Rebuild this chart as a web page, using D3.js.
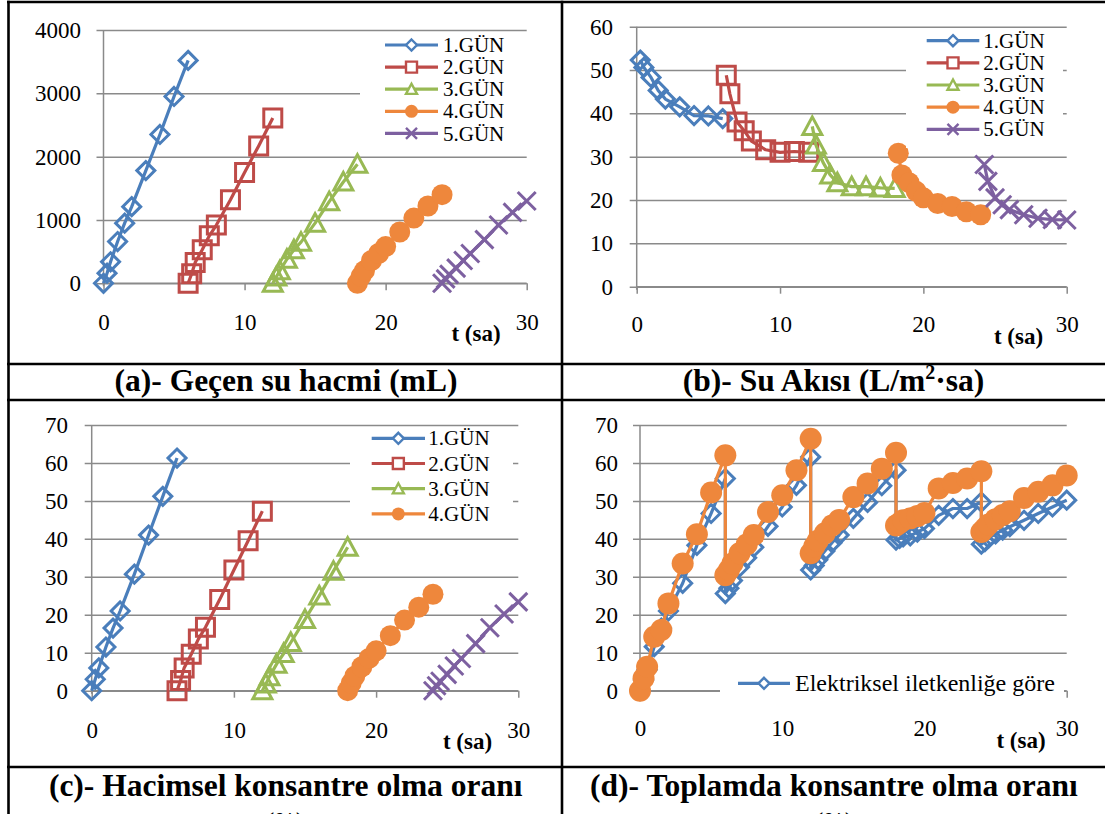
<!DOCTYPE html>
<html>
<head>
<meta charset="utf-8">
<script src="https://cdn.jsdelivr.net/npm/d3@7"></script>
<style>
  html, body { margin: 0; padding: 0; background: #fff; }
  svg { display: block; font-family: "Liberation Serif", "Times New Roman", serif; }
</style>
</head>
<body>
<svg id="fig" width="1105" height="814"></svg>
<script>
// ---------- data ----------
const dayLabels = ["1.GÜN", "2.GÜN", "3.GÜN", "4.GÜN", "5.GÜN"];
const xTicks = [0, 10, 20, 30];
const yTicksVolume = [0, 1000, 2000, 3000, 4000];
const yTicksFlux = [0, 10, 20, 30, 40, 50, 60];
const yTicksRatio = [0, 10, 20, 30, 40, 50, 60, 70];

// sampling times (sa) of each day
const tDay1 = [0, 0.25, 0.5, 1, 1.5, 2, 3, 4, 5, 6];
const tDay2 = [6, 6.25, 6.5, 7, 7.5, 8, 9, 10, 11, 12];
const tDay3 = [12, 12.25, 12.5, 13, 13.5, 14, 15, 16, 17, 18];
const tDay4 = [18, 18.25, 18.5, 19, 19.5, 20, 21, 22, 23, 24];
const tDay5 = [24, 24.25, 24.5, 25, 25.5, 26, 27, 28, 29, 30];

// flux is reported at the end of each interval
const tFlux1 = [0.25, 0.5, 1, 1.5, 2, 3, 4, 5, 6];
const tFlux2 = [6.25, 6.5, 7, 7.5, 8, 9, 10, 11, 12];
const tFlux3 = [12.25, 12.5, 13, 13.5, 14, 15, 16, 17, 18];
const tFlux4 = [18.25, 18.5, 19, 19.5, 20, 21, 22, 23, 24];
const tFlux5 = [24.25, 24.5, 25, 25.5, 26, 27, 28, 29, 30];

// (a) permeate volume, mL
const volDay1 = [0, 160, 340, 660, 950, 1210, 1780, 2350, 2950, 3520];
const volDay2 = [0, 150, 330, 530, 750, 920, 1320, 1750, 2170, 2610];
const volDay3 = [0, 100, 200, 380, 530, 650, 950, 1290, 1600, 1880];
const volDay4 = [0, 110, 200, 360, 470, 580, 810, 1030, 1220, 1400];
const volDay5 = [0, 70, 140, 240, 360, 470, 690, 920, 1120, 1300];

// (b) water flux, L/m2.sa
const fluxDay1 = [52.3, 50.6, 48.3, 45.3, 43.3, 41.5, 39.5, 39.4, 38.8];
const fluxDay2 = [48.8, 44.5, 38.0, 36.0, 33.6, 31.6, 31.0, 31.2, 31.0];
const fluxDay3 = [37.0, 32.7, 28.7, 25.8, 24.0, 23.1, 23.1, 22.8, 22.7];
const fluxDay4 = [30.8, 25.8, 24.0, 22.0, 20.5, 19.2, 18.5, 17.3, 16.6];
const fluxDay5 = [28.2, 24.3, 20.5, 18.9, 17.8, 16.6, 15.8, 15.5, 15.4];

// (c) volumetric concentration ratio, %
const vcrDay1 = [0, 3.0, 6.0, 11.5, 16.5, 21.0, 30.7, 41.0, 51.2, 61.3];
const vcrDay2 = [0, 2.7, 6.0, 9.6, 13.6, 16.7, 24.0, 31.8, 39.5, 47.3];
const vcrDay3 = [0, 1.8, 3.7, 7.0, 9.8, 12.7, 18.8, 25.0, 31.5, 37.8];
const vcrDay4 = [0, 2.0, 3.8, 6.3, 8.5, 10.5, 14.5, 18.6, 22.0, 25.4];
const vcrDay5 = [0, 1.3, 2.5, 4.3, 6.5, 8.5, 12.4, 16.6, 20.2, 23.4];

// (d) total concentration ratio, %
const ecDay1 = [0, 2.8, 5.5, 11.6, 16.5, 21.0, 28.3, 38.3, 46.7, 55.9];
const ecDay2 = [25.6, 27.0, 29.0, 32.6, 35.0, 37.8, 43.3, 48.4, 54.1, 61.6];
const ecDay3 = [31.8, 33.0, 34.5, 36.8, 39.0, 41.0, 45.4, 49.6, 54.0, 58.1];
const ecDay4 = [39.7, 40.1, 40.5, 40.8, 41.8, 42.7, 46.2, 48.0, 48.0, 49.7];
const ecDay5 = [38.6, 39.3, 40.2, 41.3, 42.3, 43.2, 44.9, 46.7, 48.4, 50.2];
const totDay1 = [0, 3.3, 6.3, 14.2, 16.0, 23.0, 33.5, 41.2, 52.2, 62.0];
const totDay2 = [30.4, 31.8, 33.5, 36.2, 38.5, 41.0, 47.1, 51.5, 58.1, 66.4];
const totDay3 = [36.2, 38.0, 39.5, 41.5, 43.5, 45.0, 51.0, 54.6, 58.5, 62.7];
const totDay4 = [43.5, 44.2, 44.9, 45.4, 46.0, 46.8, 53.3, 54.7, 55.9, 57.8];
const totDay5 = [41.8, 42.8, 43.8, 45.2, 46.3, 47.3, 50.8, 52.4, 54.1, 56.7];

const ecLabel = "Elektriksel iletkenliğe göre";
const captions = [
  "(a)- Geçen su hacmi (mL)",
  "(b)- Su Akısı (L/m",
  "(c)- Hacimsel konsantre olma oranı",
  "(d)- Toplamda konsantre olma oranı"
];

// ---------- styling ----------
const colors = ["#4A7EBB", "#BE4B48", "#98B954", "#EE873C", "#7D60A0"];
const shapes = ["diamond", "square", "triangle", "circle", "cross"];
const gridColor = "#8A8A8A";

const svg = d3.select("#fig");
svg.append("rect").attr("width", 1105).attr("height", 814).attr("fill", "#fff");

function markerPath(shape, r) {
  switch (shape) {
    case "diamond": return `M0,${-r}L${r},0L0,${r}L${-r},0Z`;
    case "square": return `M${-r},${-r}H${r}V${r}H${-r}Z`;
    case "triangle": return `M0,${-r}L${r},${r * 0.85}L${-r},${r * 0.85}Z`;
    case "circle": return d3.symbol(d3.symbolCircle, Math.PI * r * r)();
    case "cross": return `M${-r},${-r}L${r},${r}M${r},${-r}L${-r},${r}`;
  }
}

function drawMarker(g, shape, color, cx, cy, r, sw, hollowFill) {
  g.append("path")
    .attr("transform", `translate(${cx},${cy})`)
    .attr("d", markerPath(shape, r))
    .attr("fill", shape === "circle" ? color : hollowFill)
    .attr("stroke", color)
    .attr("stroke-width", shape === "circle" ? 0 : sw)
    .attr("stroke-linejoin", "miter");
}

function drawPanel(p) {
  const g = svg.append("g");
  const x = d3.scaleLinear().domain([0, 30]).range([p.x0, p.x1]);
  const y = d3.scaleLinear().domain([0, p.yMax]).range([p.yBot, p.yTop]);

  // horizontal gridlines + value labels
  const yAx = g.append("g").attr("transform", `translate(${p.x0},0)`)
    .call(d3.axisLeft(y).tickValues(p.yTicks).tickSizeInner(-(p.x1 - p.x0))
      .tickSizeOuter(0).tickPadding(p.yPad).tickFormat(d3.format("d")));
  yAx.attr("font-family", null);
  yAx.select(".domain").remove();
  yAx.selectAll(".tick line").attr("x1", -7).attr("x2", p.x1 - p.x0)
    .attr("stroke", gridColor).attr("stroke-width", 1.5);
  yAx.selectAll(".tick text").attr("font-size", 23).attr("fill", "#000")
    .attr("dy", "0.33em");

  // time axis
  const xAx = g.append("g").attr("transform", `translate(0,${p.yBot})`)
    .call(d3.axisBottom(x).tickValues(xTicks).tickSizeInner(7).tickSizeOuter(0));
  xAx.attr("font-family", null);
  xAx.select(".domain").remove();
  xAx.selectAll(".tick line").attr("stroke", gridColor).attr("stroke-width", 1.5);
  xAx.selectAll(".tick text").attr("font-size", 23).attr("fill", "#000")
    .attr("y", p.xLabY - p.yBot).attr("dy", "0.33em");

  g.append("line").attr("x1", p.x0).attr("x2", p.x0).attr("y1", p.yTop).attr("y2", p.yBot + 3)
    .attr("stroke", gridColor).attr("stroke-width", 1.5);
  g.append("line").attr("x1", p.x0).attr("x2", p.x1).attr("y1", p.yBot).attr("y2", p.yBot)
    .attr("stroke", gridColor).attr("stroke-width", 1.5);

  g.append("text").attr("x", p.tx).attr("y", p.ty).attr("dy", "0.33em")
    .attr("text-anchor", "middle").attr("font-weight", "bold").attr("font-size", 23)
    .text("t (sa)");

  // series
  const line = d3.line().x(d => x(d[0])).y(d => y(d[1]));
  p.series.forEach(s => {
    const pts = d3.zip(s.t, s.v);
    g.append("path").datum(pts).attr("d", line).attr("fill", "none")
      .attr("stroke", s.color).attr("stroke-width", 3.2).attr("stroke-linejoin", "round");
    pts.forEach(d => drawMarker(g, s.shape, s.color, x(d[0]), y(d[1]), s.r || 9, 3, "none"));
  });

  // legend
  const lg = g.append("g");
  lg.append("rect").attr("x", p.legBox[0]).attr("y", p.legBox[1])
    .attr("width", p.legBox[2]).attr("height", p.legBox[3]).attr("fill", "#fff");
  p.legend.forEach((e, i) => {
    const ly = p.legY0 + i * p.legDy;
    lg.append("line").attr("x1", p.legX0).attr("x2", p.legX1).attr("y1", ly).attr("y2", ly)
      .attr("stroke", e.color).attr("stroke-width", 3.2);
    drawMarker(lg, e.shape, e.color, (p.legX0 + p.legX1) / 2, ly, e.shape === "circle" ? 6.5 : 5.5, 2.4, "#fff");
    lg.append("text").attr("x", p.legTx).attr("y", ly).attr("dy", "0.34em")
      .attr("font-size", p.legFont).text(e.label);
  });
  return g;
}

const days5 = [
  { t: tDay1, vol: volDay1, vcr: vcrDay1, tf: tFlux1, flux: fluxDay1 },
  { t: tDay2, vol: volDay2, vcr: vcrDay2, tf: tFlux2, flux: fluxDay2 },
  { t: tDay3, vol: volDay3, vcr: vcrDay3, tf: tFlux3, flux: fluxDay3 },
  { t: tDay4, vol: volDay4, vcr: vcrDay4, tf: tFlux4, flux: fluxDay4 },
  { t: tDay5, vol: volDay5, vcr: vcrDay5, tf: tFlux5, flux: fluxDay5 }
];
const dayLegend = dayLabels.map((l, i) => ({ label: l, color: colors[i], shape: shapes[i] }));
const markerR = [9, 9, 9.5, 10.5, 9];

// (a)
drawPanel({
  x0: 103.5, x1: 526.7, yTop: 30, yBot: 283.3, yMax: 4000, yTicks: yTicksVolume, yPad: 22.5,
  xLabY: 322, tx: 476, ty: 333,
  series: days5.map((d, i) => ({ t: d.t, v: d.vol, color: colors[i], shape: shapes[i], r: markerR[i] })),
  legBox: [360, 36, 170, 112], legend: dayLegend,
  legX0: 385, legX1: 438, legTx: 443, legY0: 45, legDy: 22.1, legFont: 21
});

// (b)
drawPanel({
  x0: 636.7, x1: 1066.7, yTop: 26.7, yBot: 286.7, yMax: 60, yTicks: yTicksFlux, yPad: 23.7,
  xLabY: 324, tx: 1018.5, ty: 336.7,
  series: days5.map((d, i) => ({ t: d.tf, v: d.flux, color: colors[i], shape: shapes[i], r: markerR[i] })),
  legBox: [906, 30, 157, 118], legend: dayLegend,
  legX0: 926.7, legX1: 979.3, legTx: 983.3, legY0: 40.7, legDy: 22.15, legFont: 21
});

// (c)
drawPanel({
  x0: 91.7, x1: 518.3, yTop: 425, yBot: 690.7, yMax: 70, yTicks: yTicksRatio, yPad: 23.7,
  xLabY: 730, tx: 467.5, ty: 741.7,
  series: days5.map((d, i) => ({ t: d.t, v: d.vcr, color: colors[i], shape: shapes[i], r: markerR[i] })),
  legBox: [350, 427, 163, 103], legend: dayLegend.slice(0, 4),
  legX0: 371.7, legX1: 425, legTx: 428.3, legY0: 438.3, legDy: 25.2, legFont: 21
});

// (d)
drawPanel({
  x0: 640, x1: 1066.7, yTop: 425, yBot: 690.7, yMax: 70, yTicks: yTicksRatio, yPad: 22,
  xLabY: 728.5, tx: 1021, ty: 740,
  series: [
    { t: [].concat(tDay1, tDay2, tDay3, tDay4, tDay5),
      v: [].concat(ecDay1, ecDay2, ecDay3, ecDay4, ecDay5), color: colors[0], shape: "diamond", r: 9 },
    { t: [].concat(tDay1, tDay2, tDay3, tDay4, tDay5),
      v: [].concat(totDay1, totDay2, totDay3, totDay4, totDay5), color: colors[3], shape: "circle", r: 11 }
  ],
  legBox: [720, 662, 344, 40],
  legend: [{ label: ecLabel, color: colors[0], shape: "diamond" }],
  legX0: 738, legX1: 790, legTx: 795, legY0: 683.3, legDy: 0, legFont: 24
});

// ---------- table frame & captions ----------
const frame = svg.append("g").attr("stroke", "#000").attr("stroke-width", 2.6);
[2, 364, 400, 767].forEach(yy =>
  frame.append("line").attr("x1", 7).attr("x2", 1105).attr("y1", yy).attr("y2", yy));
[8.5, 562].forEach(xx =>
  frame.append("line").attr("x1", xx).attr("x2", xx).attr("y1", 0.7).attr("y2", 814));

const capG = svg.append("g").attr("font-weight", "bold").attr("font-size", 31.5).attr("text-anchor", "middle");
capG.append("text").attr("x", 286).attr("y", 391).text(captions[0]);
const capB = capG.append("text").attr("x", 833.5).attr("y", 391);
capB.append("tspan").text(captions[1]);
capB.append("tspan").attr("font-size", 20).attr("dy", -12).text("2");
capB.append("tspan").attr("dy", 12).text("·sa)");
capG.append("text").attr("x", 285.7).attr("y", 796).text(captions[2]);
capG.append("text").attr("x", 834).attr("y", 796).text(captions[3]);
// unit line of the captions, running past the lower edge of the page
capG.append("text").attr("x", 285).attr("y", 827).attr("font-size", 22).text("(%)");
capG.append("text").attr("x", 834).attr("y", 827).attr("font-size", 22).text("(%)");
</script>
</body>
</html>
